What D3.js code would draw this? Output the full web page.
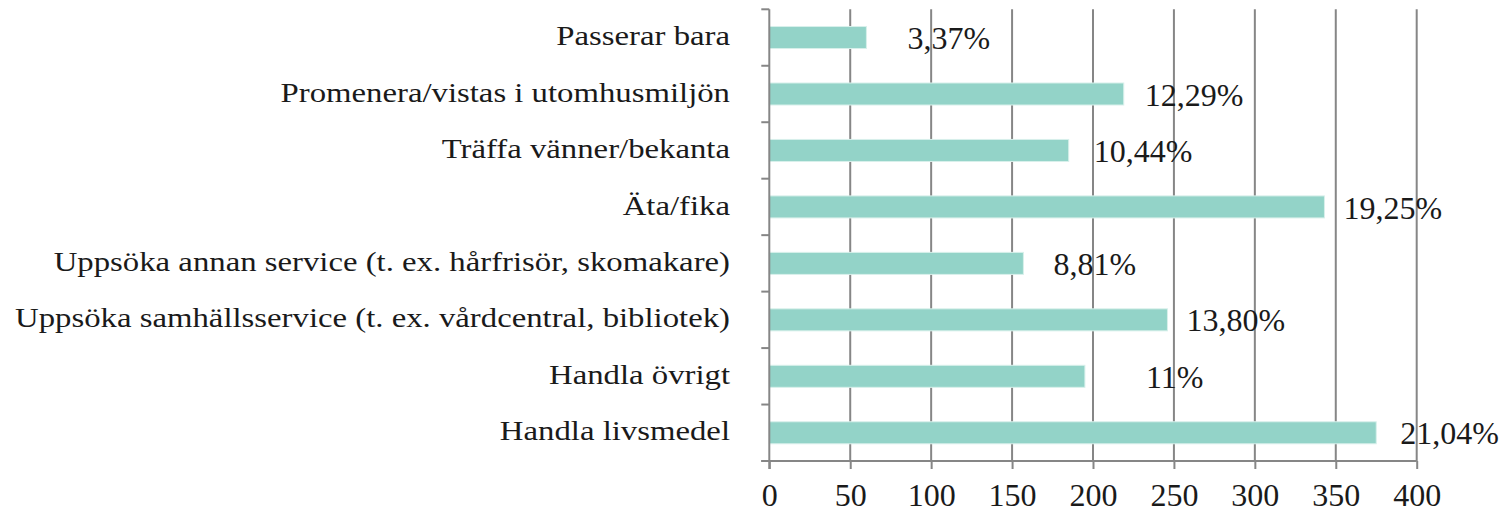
<!DOCTYPE html>
<html>
<head>
<meta charset="utf-8">
<title></title>
<style type="text/css">
    body{
        padding:0;
        margin:0;
        overflow:hidden;
        background:#fff;
    }
</style>
</head>
<body>
<div id="svg-chart"></div>
<script src="https://cdn.jsdelivr.net/npm/d3@7"></script>
<script type="text/javascript">

// categories top to bottom, as in the picture
var categories = [
    "Passerar bara",
    "Promenera/vistas i utomhusmiljön",
    "Träffa vänner/bekanta",
    "Äta/fika",
    "Uppsöka annan service (t. ex. hårfrisör, skomakare)",
    "Uppsöka samhällsservice (t. ex. vårdcentral, bibliotek)",
    "Handla övrigt",
    "Handla livsmedel"
];
var counts = [60, 219, 185, 343, 157, 246, 195, 375];
var pctLabels = ["3,37%", "12,29%", "10,44%", "19,25%", "8,81%", "13,80%", "11%", "21,04%"];
var xTicks = [0, 50, 100, 150, 200, 250, 300, 350, 400];

var width = 1504, height = 511;
var plotLeft = 769.3, plotRight = 1416.7, plotTop = 9.3, plotBottom = 461;
var serif = '"Liberation Serif", "DejaVu Serif", serif';

// the data labels were nudged by hand in the original, so each has its own gap
var labelGap = [41, 21, 25, 19, 30, 19, 61, 24];

var xScale = d3.scaleLinear().domain([0, 400]).range([plotLeft, plotRight]);
var yScale = d3.scaleBand().domain(d3.range(categories.length)).range([plotTop, plotBottom])
    .paddingInner(0.61).paddingOuter(0.305);
var step = yScale.step();
var mid = i => yScale(i) + yScale.bandwidth() / 2;

var svg = d3.select('#svg-chart')
    .append('svg')
    .attr('width', width)
    .attr('height', height);

var gridColor = '#868686';

// vertical gridlines
svg.append('g').selectAll('line')
    .data(xTicks.filter(d => d > 0))
    .enter().append('line')
    .attr('x1', d => xScale(d)).attr('x2', d => xScale(d))
    .attr('y1', plotTop).attr('y2', plotBottom)
    .style('stroke', gridColor).style('stroke-width', 2);

// bars
svg.append('g').selectAll('rect')
    .data(counts)
    .enter().append('rect')
    .attr('x', xScale(0))
    .attr('y', (d, i) => yScale(i))
    .attr('width', d => xScale(d) - xScale(0))
    .attr('height', yScale.bandwidth())
    .style('fill', '#93d3c8')
    .style('stroke', '#d8f0eb')
    .style('stroke-width', 1);

// bottom axis
var xAxis = d3.axisBottom(xScale).tickValues(xTicks).tickSize(8).tickFormat(d3.format('d'));
var gx = svg.append('g').attr('transform', 'translate(0,' + plotBottom + ')').call(xAxis)
    .attr('font-family', serif).attr('font-size', 32);
gx.select('.domain').remove();
gx.selectAll('.tick line').style('stroke', gridColor).style('stroke-width', 2);
gx.selectAll('.tick text')
    .attr('y', 45).attr('dy', null)
    .attr('fill', '#1a1a1a');

svg.append('line')
    .attr('x1', plotLeft - 8).attr('x2', plotRight)
    .attr('y1', plotBottom).attr('y2', plotBottom)
    .style('stroke', gridColor).style('stroke-width', 2);

// left axis with ticks on band edges
svg.append('line')
    .attr('x1', plotLeft).attr('x2', plotLeft)
    .attr('y1', plotTop).attr('y2', plotBottom + 8)
    .style('stroke', gridColor).style('stroke-width', 2);
svg.append('g').selectAll('line')
    .data(d3.range(categories.length + 1))
    .enter().append('line')
    .attr('x1', plotLeft - 8).attr('x2', plotLeft)
    .attr('y1', i => plotTop + i * step).attr('y2', i => plotTop + i * step)
    .style('stroke', gridColor).style('stroke-width', 2);

// category labels (the original text is a bit wide, so stretch it)
svg.append('g').selectAll('text')
    .data(categories)
    .enter().append('text')
    .attr('transform', (d, i) => 'translate(730,' + (mid(i) + 7.6) + ') scale(1.17,1)')
    .attr('text-anchor', 'end')
    .attr('font-family', serif)
    .attr('font-size', 28)
    .attr('fill', '#1a1a1a')
    .text(d => d);

// value labels
svg.append('g').selectAll('text')
    .data(counts)
    .enter().append('text')
    .attr('x', (d, i) => xScale(d) + labelGap[i])
    .attr('y', (d, i) => mid(i) + 11.6)
    .attr('font-family', serif)
    .attr('font-size', 32)
    .attr('fill', '#1a1a1a')
    .text((d, i) => pctLabels[i]);

</script>
</body>
</html>
